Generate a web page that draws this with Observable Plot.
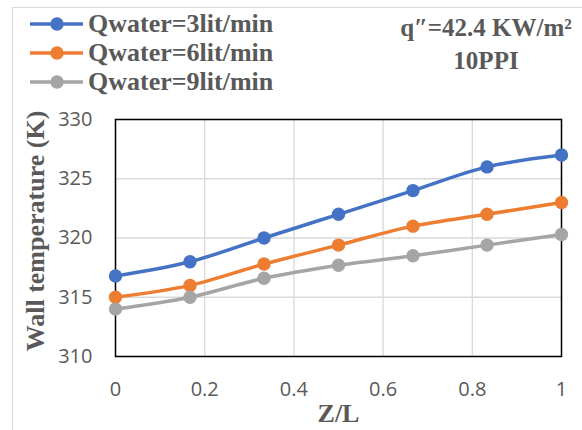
<!DOCTYPE html>
<html><head><meta charset="utf-8">
<script src="https://cdn.jsdelivr.net/npm/d3@7"></script>
<script src="https://cdn.jsdelivr.net/npm/@observablehq/plot@0.6"></script>
<style>
body{margin:0;background:#fff;}
#wrap{position:relative;width:582px;height:430px;overflow:hidden;background:#fff;}
#chart{position:absolute;left:0;top:0;}
#frame{position:absolute;left:12px;top:7px;width:620px;height:520px;border-left:1.5px solid #d9d9d9;border-top:1.5px solid #d9d9d9;pointer-events:none;}
.serif{font-family:"Liberation Serif","Times New Roman",serif;font-weight:bold;color:#595959;font-size:26px;}
#legend{position:absolute;left:28px;top:9.5px;}
.row{height:29px;display:flex;align-items:center;white-space:nowrap;}
.row svg{margin-right:3px;flex:none;}
#note{position:absolute;left:386px;top:11px;width:200px;text-align:center;line-height:33px;white-space:nowrap;font-size:25px;}
</style>
</head><body>
<div id="wrap"><div id="chart"></div><div id="frame"></div><div id="legend" class="serif"></div><div id="note" class="serif"></div></div>
<script>
const zl = [0, 0.167, 0.333, 0.5, 0.667, 0.833, 1];
const t3 = [316.8, 318, 320, 322, 324, 326, 327];
const t6 = [315, 316, 317.8, 319.4, 321, 322, 323];
const t9 = [314, 315, 316.6, 317.7, 318.5, 319.4, 320.3];
const seriesNames = ["Qwater=3lit/min", "Qwater=6lit/min", "Qwater=9lit/min"];
const colors = ["#4472C4", "#ED7D31", "#A5A5A5"];
const xTicks = [0, 0.2, 0.4, 0.6, 0.8, 1];
const yTicks = [310, 315, 320, 325, 330];
const xTitle = "Z/L";
const yTitle = "Wall temperature (K)";
const noteLines = ["q\u2033=42.4 KW/m\u00B2", "10PPI"];

const data = [];
[t3, t6, t9].forEach((arr, i) => arr.forEach((v, j) => data.push({series: seriesNames[i], x: zl[j], y: v})));

const titleStyle = {fontFamily: "'Liberation Serif', 'Times New Roman', serif", fontWeight: "bold", fontSize: 26, fill: "#595959"};

const chart = Plot.plot({
  width: 582, height: 430,
  marginLeft: 115, marginRight: 21, marginTop: 119, marginBottom: 74,
  style: {background: "transparent", fontFamily: "'Open Sans', sans-serif", fontSize: "20px", color: "#595959", overflow: "visible"},
  x: {domain: [0, 1]},
  y: {domain: [310, 330]},
  color: {domain: seriesNames, range: colors},
  marks: [
    Plot.gridX(xTicks, {stroke: "#d9d9d9", strokeOpacity: 1, strokeWidth: 1.3}),
    Plot.gridY(yTicks, {stroke: "#d9d9d9", strokeOpacity: 1, strokeWidth: 1.3}),
    Plot.frame({stroke: "#000", strokeWidth: 1.5}),
    Plot.axisX({ticks: xTicks, tickSize: 0, tickPadding: 25, label: null, tickFormat: d => String(d)}),
    Plot.axisY({ticks: yTicks, tickSize: 0, tickPadding: 23, label: null}),
    Plot.line(data, {x: "x", y: "y", stroke: "series", z: "series", strokeWidth: 3.5, curve: "catmull-rom"}),
    Plot.dot(data, {x: "x", y: "y", fill: "series", r: 6.7}),
    Plot.text([yTitle], {frameAnchor: "left", textAnchor: "middle", lineAnchor: "middle", rotate: -90, dx: -80, dy: -7, ...titleStyle}),
    Plot.text([xTitle], {frameAnchor: "bottom", textAnchor: "middle", lineAnchor: "middle", dy: 57, ...titleStyle})
  ]
});
document.getElementById("chart").appendChild(chart);

const legend = document.getElementById("legend");
seriesNames.forEach((name, i) => {
  const row = document.createElement("div");
  row.className = "row";
  row.innerHTML = `<svg width="57" height="16"><line x1="2" y1="8" x2="55" y2="8" stroke="${colors[i]}" stroke-width="3.5"/><circle cx="29" cy="8" r="6.7" fill="${colors[i]}"/></svg><span>${name}</span>`;
  legend.appendChild(row);
});
document.getElementById("note").innerHTML = noteLines.join("<br>");
</script>
</body></html>
